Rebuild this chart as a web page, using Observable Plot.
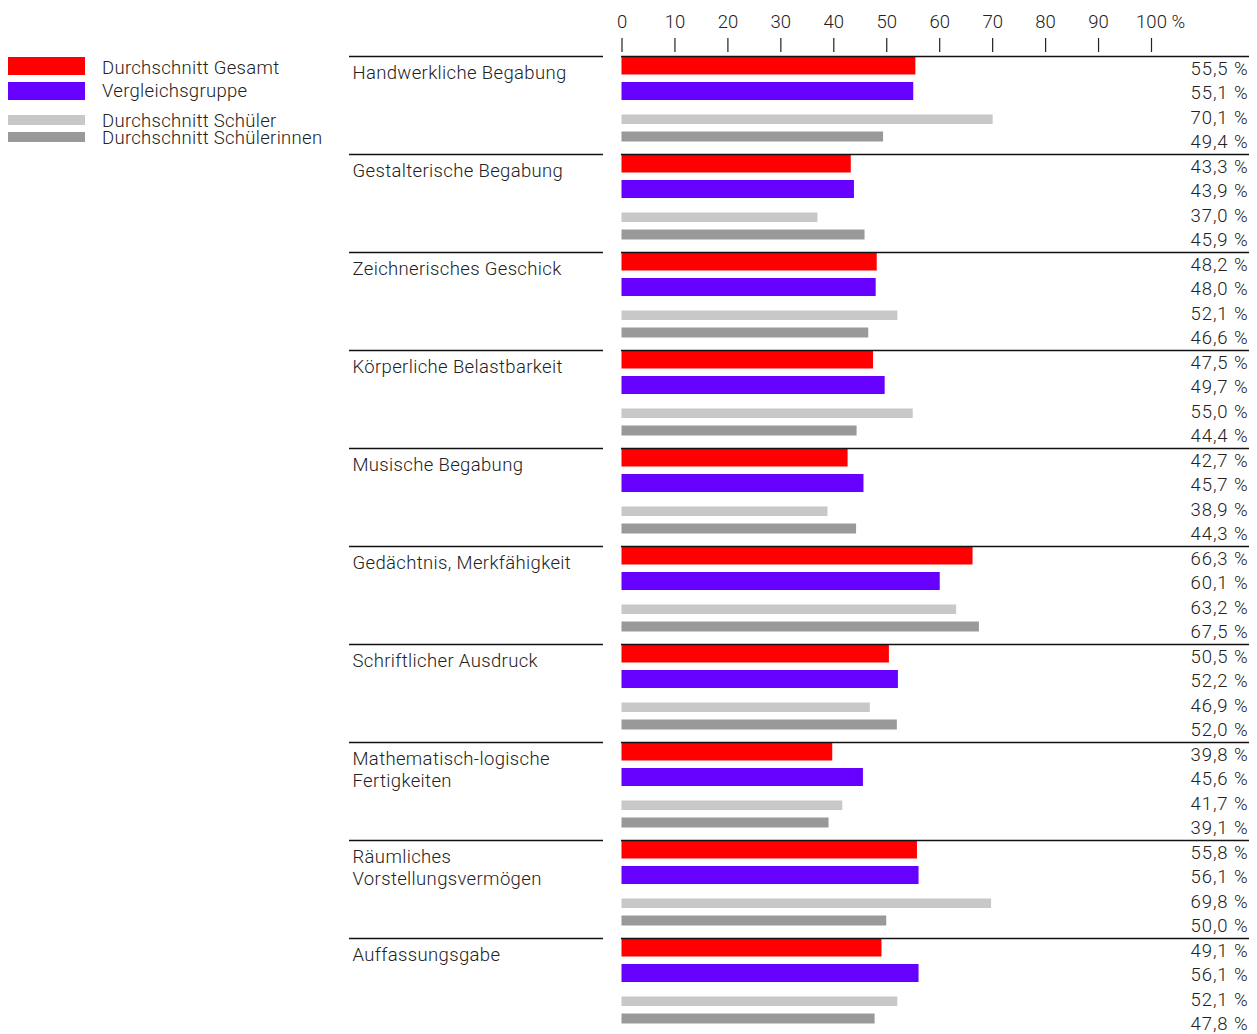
<!DOCTYPE html>
<html>
<head>
<meta charset="utf-8">
<script src="https://cdn.jsdelivr.net/npm/d3@7"></script>
<script src="https://cdn.jsdelivr.net/npm/@observablehq/plot@0.6"></script>
<style>
  html, body { margin: 0; padding: 0; background: #fff; overflow: hidden; }
  #chart { position: relative; width: 1257px; height: 1034px; font-family: Roboto, "Noto Sans", sans-serif; font-weight: 300; color: #222; }
  #chart svg { position: absolute; left: 0; top: 0; }
  .sw { position: absolute; left: 8px; width: 77px; }
  .lg { position: absolute; left: 102px; font-size: 18.5px; letter-spacing: 0.3px; line-height: 1; white-space: nowrap; }
</style>
</head>
<body>
<div id="chart"></div>
<script>
// Begabungsprofil: Selbsteinschätzung in Prozent
const categories = [
  "Handwerkliche Begabung",
  "Gestalterische Begabung",
  "Zeichnerisches Geschick",
  "Körperliche Belastbarkeit",
  "Musische Begabung",
  "Gedächtnis, Merkfähigkeit",
  "Schriftlicher Ausdruck",
  "Mathematisch-logische\nFertigkeiten",
  "Räumliches\nVorstellungsvermögen",
  "Auffassungsgabe"
];
const seriesNames = ["Durchschnitt Gesamt", "Vergleichsgruppe", "Durchschnitt Schüler", "Durchschnitt Schülerinnen"];
const durchschnittGesamt        = [55.5, 43.3, 48.2, 47.5, 42.7, 66.3, 50.5, 39.8, 55.8, 49.1];
const vergleichsgruppe          = [55.1, 43.9, 48.0, 49.7, 45.7, 60.1, 52.2, 45.6, 56.1, 56.1];
const durchschnittSchueler      = [70.1, 37.0, 52.1, 55.0, 38.9, 63.2, 46.9, 41.7, 69.8, 52.1];
const durchschnittSchuelerinnen = [49.4, 45.9, 46.6, 44.4, 44.3, 67.5, 52.0, 39.1, 50.0, 47.8];
const axisTicks = [0, 10, 20, 30, 40, 50, 60, 70, 80, 90, 100];

// Darstellung
const seriesColors = ["#ff0000", "#6600ff", "#c8c8c8", "#999999"];
const barInsets = [[1, 6], [1.5, 5], [9.5, 5.5], [2, 12.5]];   // [top, bottom] in px within each slot
const W = 1257, TOP = 56, ROWH = 98;
const X_RANGE = [621.5, 1151];
const FONT = 18.5;
const INK = "#222";

const seriesValues = [durchschnittGesamt, vergleichsgruppe, durchschnittSchueler, durchschnittSchuelerinnen];
const rows = [];
categories.forEach((c, i) => seriesValues.forEach((vals, j) => rows.push({category: c, series: seriesNames[j], slot: j, value: vals[i]})));
const fmt = v => v.toFixed(1).replace(".", ",") + " %";

const chart = document.getElementById("chart");

// Legende
const legendBoxes = [[57, 18], [82, 18], [115, 9.5], [132, 10]];
const legendBaselines = [75, 98, 127.5, 145];
seriesNames.forEach((name, j) => {
  const sw = document.createElement("div");
  sw.className = "sw";
  sw.style.top = legendBoxes[j][0] + "px";
  sw.style.height = legendBoxes[j][1] + "px";
  sw.style.background = seriesColors[j];
  chart.appendChild(sw);
  const lg = document.createElement("div");
  lg.className = "lg";
  lg.style.top = (legendBaselines[j] - 0.8415 * FONT) + "px";
  lg.textContent = name;
  chart.appendChild(lg);
});

const plotStyle = {fontFamily: "Roboto, 'Noto Sans', sans-serif", background: "transparent", overflow: "visible"};

// Achse oben
const axis = Plot.plot({
  width: W, height: TOP,
  marginTop: 38, marginBottom: 4, marginLeft: 0, marginRight: 0,
  style: plotStyle,
  x: {domain: [0, 100], range: X_RANGE, axis: null},
  marks: [
    Plot.ruleX(axisTicks, {x: d => d, stroke: INK, strokeWidth: 1.2}),
    Plot.text(axisTicks, {x: d => d, text: d => String(d), frameAnchor: "top", lineAnchor: "middle", dy: -16.5, fontSize: FONT, fontWeight: 300, fill: INK}),
    Plot.text(["%"], {x: () => 100, text: d => d, frameAnchor: "top", lineAnchor: "middle", textAnchor: "start", dx: 20, dy: -16.5, fontSize: FONT, fontWeight: 300, fill: INK})
  ]
});
chart.appendChild(axis);

// Balken je Kategorie
const bars = Plot.plot({
  width: W, height: TOP + ROWH * categories.length,
  marginTop: TOP, marginBottom: 0, marginLeft: 0, marginRight: 0,
  style: plotStyle,
  x: {domain: [0, 100], range: X_RANGE, axis: null},
  y: {domain: [0, 4], reverse: true, axis: null},
  fy: {domain: categories, padding: 0, axis: null, label: null},
  marks: [
    ...seriesNames.map((s, j) => Plot.rectX(rows.filter(r => r.slot === j), {
      fy: "category", x: "value", y1: "slot", y2: r => r.slot + 1,
      fill: seriesColors[j], insetTop: barInsets[j][0], insetBottom: barInsets[j][1]
    })),
    Plot.ruleY(categories, {fy: d => d, y: () => 0, stroke: "#111", strokeWidth: 1.3, insetLeft: 349, insetRight: W - 603}),
    Plot.ruleY(categories, {fy: d => d, y: () => 0, stroke: "#111", strokeWidth: 1.3, insetLeft: 621, insetRight: 8}),
    Plot.text(categories, {fy: d => d, y: () => 0, text: d => d, frameAnchor: "left", textAnchor: "start", lineAnchor: "top", dx: 352, dy: 7, lineHeight: 1.19, fontSize: FONT, fontWeight: 300, fill: INK}),
    Plot.text(rows, {fy: "category", y: r => r.slot + 0.5, text: r => fmt(r.value), frameAnchor: "right", textAnchor: "end", dx: -9, dy: 0, fontSize: FONT, fontWeight: 300, fill: INK})
  ]
});
chart.appendChild(bars);
// Zahlenbeschriftungen etwas gesperrt
bars.querySelectorAll("text").forEach(t => { t.style.letterSpacing = /%$/.test(t.textContent) ? "0.9px" : "0.35px"; });
</script>
</body>
</html>
